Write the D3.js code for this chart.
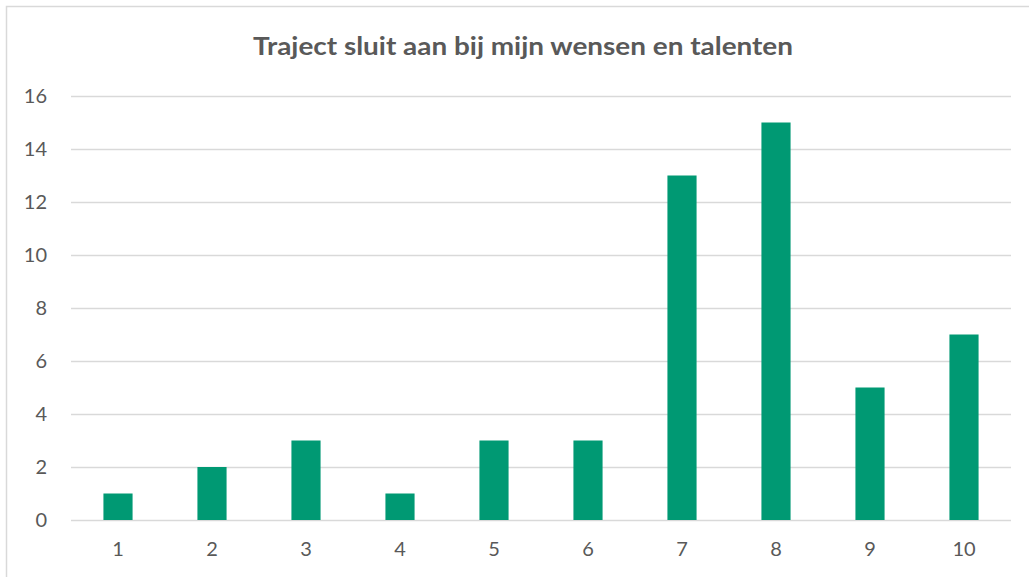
<!DOCTYPE html>
<html>
<head>
<meta charset="utf-8">
<script src="https://cdn.jsdelivr.net/npm/d3@7"></script>
<style>
  body { margin: 0; background: #fff; }
  svg { display: block; font-family: Lato, "Open Sans", sans-serif; }
</style>
</head>
<body>
<div id="main"></div>
<script>
'use strict';

// data
const categories = ['1', '2', '3', '4', '5', '6', '7', '8', '9', '10'];
const values = [1, 2, 3, 1, 3, 3, 13, 15, 5, 7];
const yTicks = [0, 2, 4, 6, 8, 10, 12, 14, 16];
const title = 'Traject sluit aan bij mijn wensen en talenten';

// config
const canvas = {
  width: 1029,
  height: 577,
  padding: { top: 96, right: 18, bottom: 57, left: 71 }
};

const svg = d3.select('#main')
  .append('svg')
  .attr('width', canvas.width)
  .attr('height', canvas.height);

// chart border (Excel frame)
svg.append('rect')
  .attr('x', 6.5)
  .attr('y', 6.5)
  .attr('width', canvas.width + 10)
  .attr('height', canvas.height + 10)
  .attr('fill', 'none')
  .attr('stroke', '#d9d9d9')
  .attr('stroke-width', 1.5);

const xScale = d3.scaleBand()
  .domain(categories)
  .range([canvas.padding.left, canvas.width - canvas.padding.right])
  .paddingInner(0.69)
  .paddingOuter(0.345);

const yScale = d3.scaleLinear()
  .domain([0, 16])
  .range([canvas.height - canvas.padding.bottom, canvas.padding.top]);

// gridlines
svg.append('g')
  .selectAll('line')
  .data(yTicks)
  .enter()
  .append('line')
  .attr('x1', canvas.padding.left)
  .attr('x2', canvas.width - canvas.padding.right)
  .attr('y1', d => Math.round(yScale(d)) + 0.5)
  .attr('y2', d => Math.round(yScale(d)) + 0.5)
  .attr('stroke', '#d9d9d9')
  .attr('stroke-width', 1.5);

// bars
svg.append('g')
  .selectAll('rect')
  .data(values)
  .enter()
  .append('rect')
  .attr('x', (d, i) => xScale(categories[i]))
  .attr('width', xScale.bandwidth())
  .attr('y', d => yScale(d))
  .attr('height', d => yScale(0) - yScale(d))
  .attr('fill', '#009973');

// y axis labels
const yAxis = svg.append('g')
  .attr('transform', 'translate(47,0)')
  .call(d3.axisLeft(yScale).tickValues(yTicks).tickSize(0).tickPadding(0));
yAxis.select('.domain').remove();
yAxis.selectAll('text')
  .attr('fill', '#595959')
  .style('font-size', '20px')
  .style('font-family', 'Lato, "Open Sans", sans-serif');

// x axis labels
const xAxis = svg.append('g')
  .attr('transform', 'translate(0,' + (canvas.height - canvas.padding.bottom) + ')')
  .call(d3.axisBottom(xScale).tickSize(0).tickPadding(22));
xAxis.select('.domain').remove();
xAxis.selectAll('text')
  .attr('fill', '#595959')
  .style('font-size', '20px')
  .style('font-family', 'Lato, "Open Sans", sans-serif');

// title
svg.append('text')
  .attr('x', 523)
  .attr('y', 55)
  .attr('text-anchor', 'middle')
  .attr('fill', '#595959')
  .style('font-size', '25px')
  .style('font-weight', 'bold')
  .attr('textLength', 540)
  .attr('lengthAdjust', 'spacingAndGlyphs')
  .text(title);
</script>
</body>
</html>
